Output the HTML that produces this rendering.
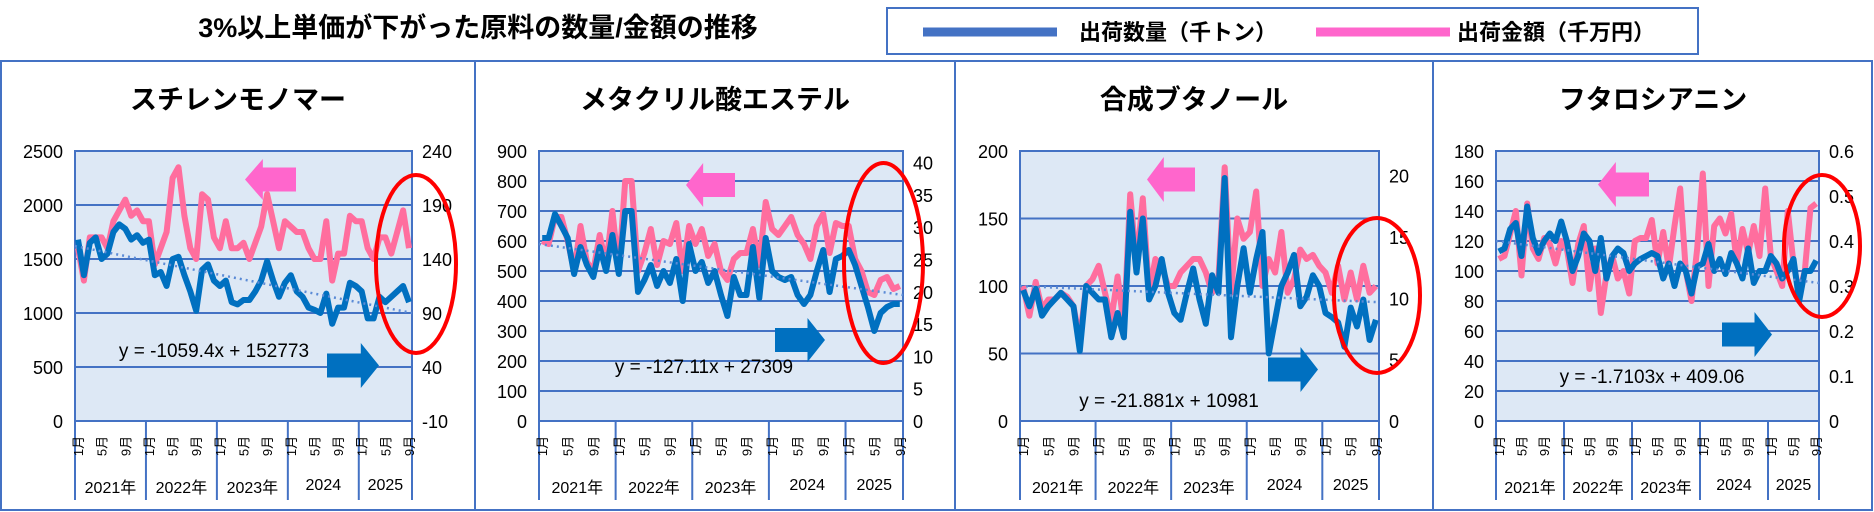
<!DOCTYPE html>
<html><head><meta charset="utf-8"><style>
html,body{margin:0;padding:0;background:#fff}
svg{display:block;font-family:"Liberation Sans","Noto Sans CJK JP",sans-serif}
</style></head><body>
<svg id="s" width="1874" height="512" xmlns="http://www.w3.org/2000/svg"></svg>
<script>
const S=document.getElementById('s');let h='';
h+='<text x="478" y="37" text-anchor="middle" font-size="27" font-weight="bold" fill="#000">3%以上単価が下がった原料の数量/金額の推移</text>';
h+='<rect x="887" y="8" width="811" height="46" fill="#fff" stroke="#4472C4" stroke-width="2"/>';
h+='<line x1="923" y1="32" x2="1057" y2="32" stroke="#4472C4" stroke-width="9"/>';
h+='<text x="1079" y="40" font-size="22" font-weight="bold">出荷数量（千トン）</text>';
h+='<line x1="1316" y1="32" x2="1450" y2="32" stroke="#FF66CC" stroke-width="9"/>';
h+='<text x="1457" y="40" font-size="22" font-weight="bold">出荷金額（千万円）</text>';
h+='<rect x="1" y="61" width="1871" height="449" fill="none" stroke="#4472C4" stroke-width="2"/>';
[475,955,1433].forEach(x=>h+=`<line x1="${x}" y1="61" x2="${x}" y2="510" stroke="#4472C4" stroke-width="2"/>`);
const P=[
{t:"スチレンモノマー",tx:238,x0:75,x1:412,max:2500,step:500,L:["2500","2000","1500","1000","500","0"],R:["240","190","140","90","40","-10"],Rmax:240,Rmin:-10,Rstep:50,
blue:[1680,1350,1650,1700,1500,1550,1750,1820,1780,1680,1720,1650,1680,1350,1380,1250,1500,1520,1350,1200,1020,1400,1450,1300,1250,1300,1100,1080,1120,1120,1200,1300,1480,1300,1150,1280,1350,1200,1150,1050,1030,1000,1180,900,1050,1050,1280,1250,1200,950,950,1150,1100,1150,1200,1250,1100],
pink:[1600,1300,1700,1700,1700,1600,1850,1950,2050,1900,1950,1850,1850,1450,1600,1750,2250,2350,1900,1600,1500,2100,2050,1700,1600,1850,1600,1600,1650,1500,1650,1800,2100,1850,1600,1850,1800,1750,1750,1600,1500,1500,1850,1300,1550,1550,1900,1850,1850,1600,1500,1700,1700,1550,1750,1950,1600],
tr:[1620,1000],eq:"y = -1059.4x + 152773",ex:214,ey:357,pa:[245,159,296,200],ba:[327,343,379,388],el:[376,175,456,353]},
{t:"メタクリル酸エステル",tx:715,x0:539,x1:903,max:900,step:100,L:["900","800","700","600","500","400","300","200","100","0"],Rv:[[0,"0"],[5,"5"],[10,"10"],[15,"15"],[20,"20"],[25,"25"],[30,"30"],[35,"35"],[40,"40"]],Rmax:41.8,Rmin:0,
blue:[610,610,690,650,610,490,580,520,480,580,500,620,490,700,700,430,470,520,450,500,460,540,400,590,500,530,460,500,420,350,480,420,420,580,410,610,500,480,470,480,420,390,420,500,570,430,540,550,570,520,450,380,300,360,380,390,390],
pink:[600,590,680,680,600,500,650,530,500,620,520,700,500,800,800,500,560,640,520,600,590,660,500,650,590,640,550,590,500,470,540,560,560,640,520,730,640,620,650,680,620,590,540,650,690,560,660,650,650,540,500,430,420,470,480,440,450],
tr:[590,420],eq:"y = -127.11x + 27309",ex:704,ey:373,pa:[686,163,735,207],ba:[775,318,825,362],el:[844,163,923,363]},
{t:"合成ブタノール",tx:1194,x0:1020,x1:1379,max:200,step:50,L:["200","150","100","50","0"],Rv:[[0,"0"],[5,"5"],[10,"10"],[15,"15"],[20,"20"]],Rmax:22,Rmin:0,
blue:[97,85,98,78,85,90,95,90,85,52,100,95,90,90,62,80,62,155,110,150,90,100,120,95,80,75,95,113,90,72,108,95,180,62,100,128,95,120,140,50,75,100,110,123,85,92,108,100,80,77,73,55,84,70,90,60,75],
pink:[100,78,103,83,90,90,95,92,85,60,100,105,115,95,75,107,70,168,115,165,95,120,115,100,100,110,115,120,120,110,95,105,188,95,150,135,140,170,100,120,110,140,95,105,127,120,123,115,110,95,115,90,110,90,115,95,100],
tr:[100,88],eq:"y = -21.881x + 10981",ex:1169,ey:407,pa:[1147,157,1195,202],ba:[1268,347,1318,392],el:[1334,218,1420,373]},
{t:"フタロシアニン",tx:1653,x0:1496,x1:1819,max:180,step:20,L:["180","160","140","120","100","80","60","40","20","0"],Rv:[[0,"0"],[.1,"0.1"],[.2,"0.2"],[.3,"0.3"],[.4,"0.4"],[.5,"0.5"],[.6,"0.6"]],Rmax:.6,Rmin:0,
blue:[113,115,128,132,110,143,122,112,120,125,120,133,120,100,110,125,120,100,122,95,110,115,112,100,105,108,110,112,110,95,105,90,105,100,85,103,105,118,100,108,98,112,105,95,115,92,100,100,110,105,95,100,108,80,100,100,107],
pink:[108,110,125,140,97,145,115,108,122,118,105,120,115,92,118,130,88,115,72,98,110,95,100,85,120,122,122,134,105,126,102,130,155,100,80,115,165,90,130,135,125,138,105,128,112,130,110,155,110,100,90,140,105,85,100,142,145],
tr:[120,92],eq:"y = -1.7103x + 409.06",ex:1652,ey:383,pa:[1598,162,1649,207],ba:[1722,312,1772,357],el:[1784,175,1860,317]}
];
const y0=151,y1=421,N=57;
P.forEach(p=>{
 const W=p.x1-p.x0,cw=W/N,Y=v=>y1-(v/p.max)*(y1-y0);
 h+=`<text x="${p.tx}" y="109" text-anchor="middle" font-size="27" font-weight="bold">${p.t}</text>`;
 h+=`<rect x="${p.x0}" y="${y0}" width="${W}" height="${y1-y0}" fill="#DDE8F5"/>`;
 for(let v=0;v<=p.max+1e-9;v+=p.step){const y=Y(v);h+=`<line x1="${p.x0}" y1="${y}" x2="${p.x1}" y2="${y}" stroke="#4472C4" stroke-width="2"/>`;}
 h+=`<rect x="${p.x0}" y="${y0}" width="${W}" height="${y1-y0}" fill="none" stroke="#4472C4" stroke-width="2"/>`;
 p.L.forEach((l,i)=>{const v=p.max-i*p.step;h+=`<text x="${p.x0-12}" y="${Y(v)+7}" text-anchor="end" font-size="18">${l}</text>`;});
 let rv=p.Rv||p.R.map((l,i)=>[p.Rmax-i*p.Rstep,l]);
 rv.forEach(([v,l])=>{const y=y1-(v-p.Rmin)/(p.Rmax-p.Rmin)*(y1-y0);h+=`<text x="${p.x1+10}" y="${y+7}" font-size="18">${l}</text>`;});
 [0,12,24,36,48,57].forEach(i=>{const x=p.x0+i*cw;h+=`<line x1="${x}" y1="${y1}" x2="${x}" y2="500" stroke="#4472C4" stroke-width="2"/>`;});
 for(let i=0;i<N;i++){const m=i%12;if(m==0||m==4||m==8){const x=p.x0+(i+.5)*cw+5;h+=`<text transform="translate(${x},446) rotate(-90)" text-anchor="middle" font-size="13">${m+1}月</text>`;}}
 ["2021年","2022年","2023年","2024","2025"].forEach((t,k)=>{const a=k*12,b=Math.min(a+12,57);const x=p.x0+(a+b)/2*cw;h+=`<text x="${x}" y="${k<3?493:490}" text-anchor="middle" font-size="16">${t}</text>`;});
 const pts=a=>a.slice(0,N).map((v,i)=>`${(p.x0+(i+.5)*cw).toFixed(1)},${Y(v).toFixed(1)}`).join(' ');
 h+=`<polyline points="${pts(p.pink)}" fill="none" stroke="#FF6E9E" stroke-width="6" stroke-linejoin="round"/>`;
 h+=`<polyline points="${pts(p.blue)}" fill="none" stroke="#0070C0" stroke-width="6" stroke-linejoin="round"/>`;
 h+=`<line x1="${p.x0}" y1="${Y(p.tr[0])}" x2="${p.x1}" y2="${Y(p.tr[1])}" stroke="#5B8BD6" stroke-width="2.5" stroke-dasharray="2,4"/>`;
 h+=`<text x="${p.ex}" y="${p.ey}" text-anchor="middle" font-size="19">${p.eq}</text>`;
 let [a,b,c,d]=p.pa,m=(b+d)/2,hw=(c-a)*0.35;
 h+=`<polygon points="${a},${m} ${a+hw},${b} ${a+hw},${m-12} ${c},${m-12} ${c},${m+12} ${a+hw},${m+12} ${a+hw},${d}" fill="#FF66CC"/>`;
 [a,b,c,d]=p.ba;m=(b+d)/2;hw=(c-a)*0.35;
 h+=`<polygon points="${c},${m} ${c-hw},${b} ${c-hw},${m-12} ${a},${m-12} ${a},${m+12} ${c-hw},${m+12} ${c-hw},${d}" fill="#0070C0"/>`;
 [a,b,c,d]=p.el;
 h+=`<ellipse cx="${(a+c)/2}" cy="${(b+d)/2}" rx="${(c-a)/2}" ry="${(d-b)/2}" fill="none" stroke="#FF0000" stroke-width="4"/>`;
});
S.innerHTML=h;
</script>
</body></html>
